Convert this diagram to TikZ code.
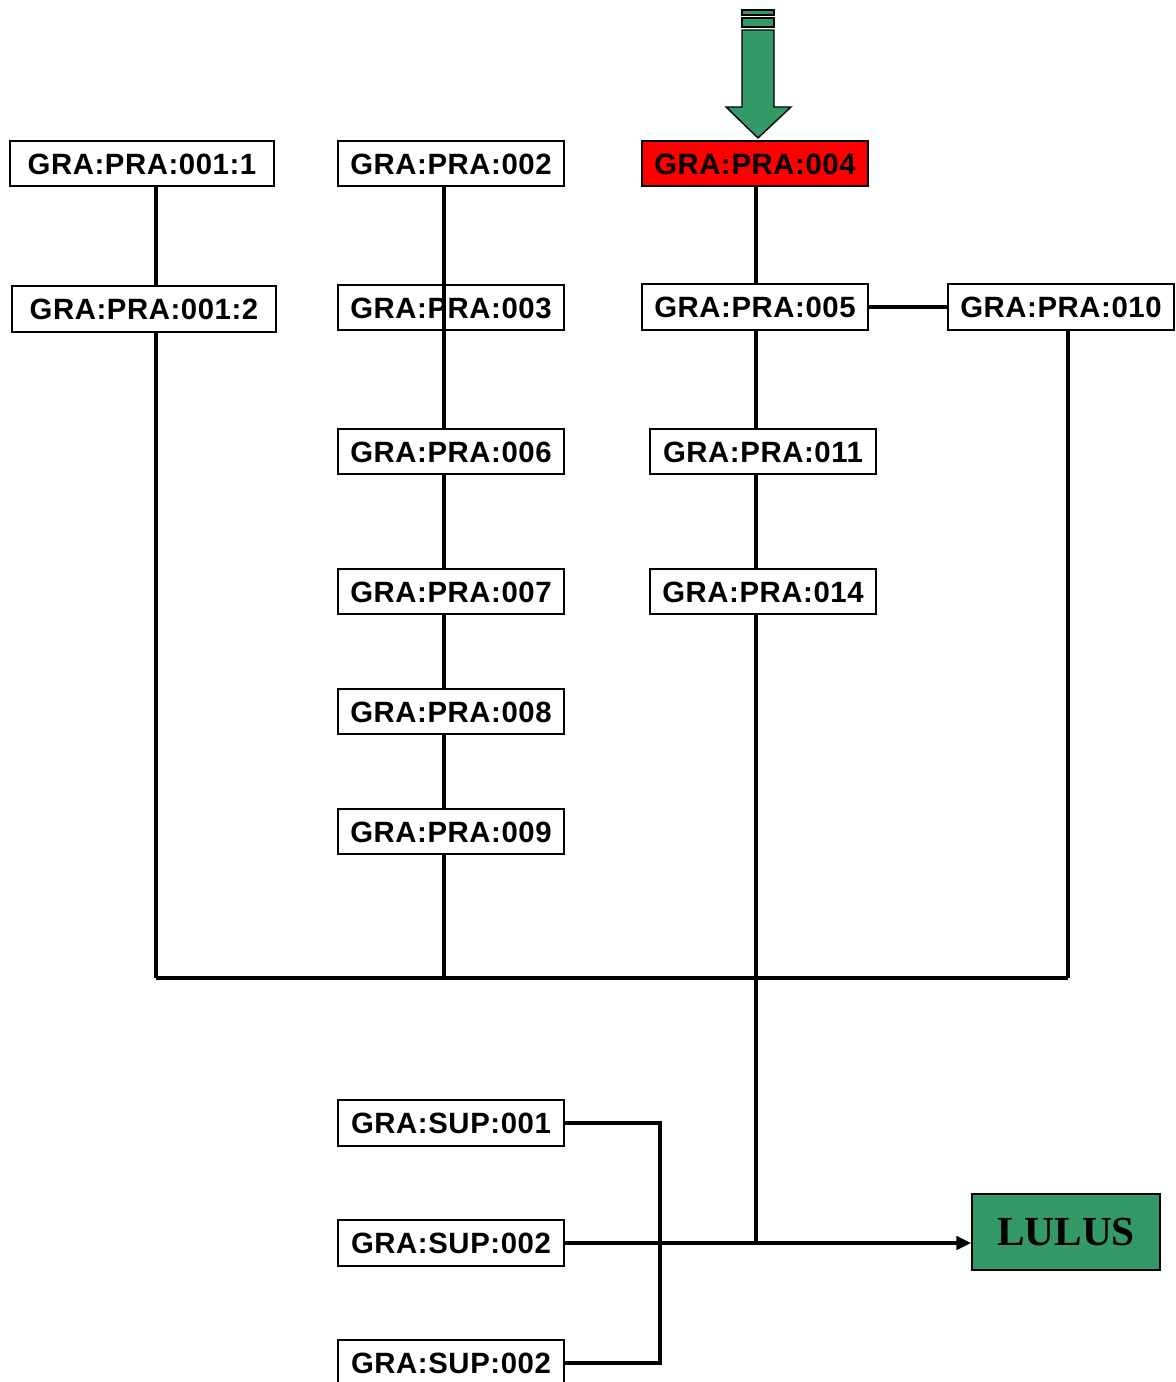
\documentclass[tikz,border=0pt]{standalone}
\usepackage{fontspec}
\setmainfont{Liberation Sans}[LetterSpace=2.0]
\newfontfamily\serifb{Liberation Serif}
\usetikzlibrary{arrows.meta}
\definecolor{grn}{RGB}{51,153,102}
\definecolor{redbox}{RGB}{255,0,0}
\begin{document}
\begin{tikzpicture}[x=0.75pt,y=-0.75pt,
  box/.style={draw, line width=1.4pt, minimum width=169.5pt, minimum height=34pt, inner sep=0pt,
    font=\bfseries\fontsize{22}{24}\selectfont, text height=16pt, text depth=0pt, fill=white},
  wbox/.style={box, minimum width=198pt},
  conn/.style={line width=2.6pt}]
\useasboundingbox (0,0) rectangle (1175,1382);
\clip (0,0) rectangle (1175,1382);
% nodes
\node[wbox] (p11) at (142,163.5) {GRA:PRA:001:1};
\node[wbox] (p12) at (144,309) {GRA:PRA:001:2};
\node[box] (p2) at (451,163.5) {GRA:PRA:002};
\node[box,fill=none] (p3) at (451,307.5) {GRA:PRA:003};
\node[box] (p6) at (451,451.5) {GRA:PRA:006};
\node[box] (p7) at (451,591.5) {GRA:PRA:007};
\node[box] (p8) at (451,711.5) {GRA:PRA:008};
\node[box] (p9) at (451,831.5) {GRA:PRA:009};
\node[box,fill=redbox] (p4) at (755,163.5) {GRA:PRA:004};
\node[box] (p5) at (755,307) {GRA:PRA:005};
\node[box] (p10) at (1061,307) {GRA:PRA:010};
\node[box] (p11b) at (763,451.5) {GRA:PRA:011};
\node[box] (p14) at (763,591.5) {GRA:PRA:014};
\node[box] (s1) at (451,1123) {GRA:SUP:001};
\node[box] (s2) at (451,1243) {GRA:SUP:002};
\node[box] (s3) at (451,1363) {GRA:SUP:002};
\node[draw, line width=1.4pt, fill=grn, minimum width=141pt, minimum height=57pt, inner sep=0pt,
  font=\serifb\bfseries\fontsize{31}{33}\selectfont] (lulus) at (1066,1232) {LULUS};
% coordinates
\coordinate (b1) at (156,978);
\coordinate (b2) at (444,978);
\coordinate (b3) at (756,978);
\coordinate (b4) at (1068,978);
\coordinate (j) at (756,1243);
\coordinate (k) at (660,1123);
% connectors
\draw[conn] (b1 |- p11.south) -- (b1 |- p12.north);
\draw[conn] (b1 |- p12.south) -- (b1);
\draw[conn] (b2 |- p2.south) -- (b2 |- p6.north);
\draw[conn] (b2 |- p6.south) -- (b2 |- p7.north);
\draw[conn] (b2 |- p7.south) -- (b2 |- p8.north);
\draw[conn] (b2 |- p8.south) -- (b2 |- p9.north);
\draw[conn] (b2 |- p9.south) -- (b2);
\draw[conn] (b3 |- p4.south) -- (b3 |- p5.north);
\draw[conn] (b3 |- p5.south) -- (b3 |- p11b.north);
\draw[conn] (b3 |- p11b.south) -- (b3 |- p14.north);
\draw[conn] (b3 |- p14.south) -- (j);
\draw[conn] (p5.east) -- (p10.west);
\draw[conn] (b4 |- p10.south) -- (b4);
\draw[conn] (b1) -- (b4);
\draw[conn] (s1.east) -- (k) -- (k |- s3.east) -- (s3.east);
\draw[conn,-{Triangle[length=11pt,width=10pt]}] (s2.east) -- (s2.east -| lulus.west);
% top block arrow
\draw[line width=1pt, fill=grn] (742,10) rectangle (774,15);
\draw[line width=1pt, fill=grn] (742,18) rectangle (774,27);
\draw[line width=1pt, fill=grn] (742,30) -- (774,30) -- (774,107) -- (791,107) -- (758,138)
  -- (726,107) -- (742,107) -- cycle;
\end{tikzpicture}
\end{document}
